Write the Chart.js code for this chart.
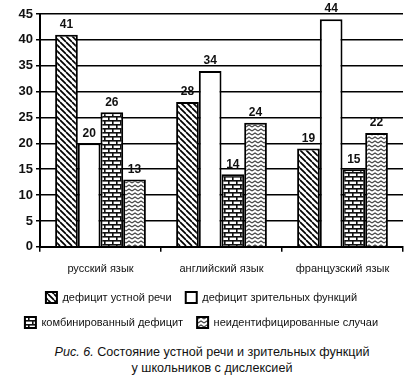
<!DOCTYPE html>
<html>
<head>
<meta charset="utf-8">
<script src="https://cdn.jsdelivr.net/npm/chart.js@4"></script>
<style>
  body { margin: 0; background: #fff; }
  #wrap { position: relative; width: 408px; height: 379px; }
  #caption {
    position: absolute; left: 16px; top: 344px; width: 392px;
    text-align: center; font: 12.6px "Liberation Sans", Arial, sans-serif;
    line-height: 16px; color: #111;
  }
</style>
</head>
<body>
<div id="wrap">
  <canvas id="chart" width="408" height="338"></canvas>
  <div id="caption"><i>Рис. 6.</i> Состояние устной речи и зрительных функций<br>у школьников с дислексией</div>
</div>
<script>
// data
const categories = ['русский язык', 'английский язык', 'французский язык'];
const speechDeficit = [41, 28, 19];
const visualDeficit = [20, 34, 44];
const combinedDeficit = [26, 14, 15];
const unidentified = [13, 24, 22];
const yMax = 45;
const yStep = 5;

// fill patterns like the printed figure
function makePattern(kind) {
  const c = document.createElement('canvas');
  const g = c.getContext('2d');
  if (kind === 'hatch') {
    c.width = 6; c.height = 6;
    g.fillStyle = '#fff'; g.fillRect(0, 0, 6, 6);
    g.strokeStyle = '#000'; g.lineWidth = 1.7;
    [-6, 0, 6].forEach(o => {
      g.beginPath(); g.moveTo(o, 0); g.lineTo(o + 6, 6); g.stroke();
    });
  } else if (kind === 'brick') {
    c.width = 8; c.height = 8;
    g.fillStyle = '#fff'; g.fillRect(0, 0, 8, 8);
    g.fillStyle = '#111';
    g.fillRect(0, 0, 8, 1.6);
    g.fillRect(0, 4, 8, 1.6);
    g.fillRect(0, 0, 1.6, 4);
    g.fillRect(4, 4, 1.6, 4);
  } else {
    c.width = 6; c.height = 4;
    g.fillStyle = '#fff'; g.fillRect(0, 0, 6, 4);
    g.strokeStyle = '#444'; g.lineWidth = 1.1;
    g.beginPath(); g.moveTo(0, 3); g.lineTo(3, 1); g.lineTo(6, 3); g.stroke();
  }
  return g.createPattern(c, 'repeat');
}

// value labels over the bars
const barLabels = {
  id: 'barLabels',
  afterDatasetsDraw(chart) {
    const ctx = chart.ctx;
    ctx.save();
    ctx.font = 'bold 12px "Liberation Sans", Arial, sans-serif';
    ctx.fillStyle = '#111';
    ctx.textAlign = 'center';
    ctx.textBaseline = 'bottom';
    chart.data.datasets.forEach((ds, i) => {
      chart.getDatasetMeta(i).data.forEach((bar, j) => {
        ctx.fillText(ds.data[j], bar.x, bar.y - 4);
      });
    });
    ctx.restore();
  }
};

const ctx = document.getElementById('chart');
new Chart(ctx.getContext('2d'), {
  type: 'bar',
  data: {
    labels: categories,
    datasets: [
      { label: 'дефицит устной речи', data: speechDeficit, backgroundColor: makePattern('hatch') },
      { label: 'дефицит зрительных функций', data: visualDeficit, backgroundColor: '#fff' },
      { label: 'комбинированный дефицит', data: combinedDeficit, backgroundColor: makePattern('brick') },
      { label: 'неидентифицированные случаи', data: unidentified, backgroundColor: makePattern('wavy') }
    ].map(d => Object.assign(d, {
      borderColor: '#000', borderWidth: 2, borderSkipped: 'bottom',
      categoryPercentage: 0.75, barPercentage: 1
    }))
  },
  options: {
    responsive: false,
    animation: false,
    layout: { padding: { left: 0, right: 5, top: 14, bottom: 0 } },
    plugins: {
      legend: {
        position: 'bottom',
        labels: {
          boxWidth: 11, boxHeight: 11, padding: 14,
          color: '#111',
          font: { size: 11, family: '"Liberation Sans", Arial, sans-serif' }
        }
      },
      tooltip: { enabled: false }
    },
    scales: {
      y: {
        min: 0, max: yMax,
        afterFit(scale) { scale.width = 40; },
        ticks: {
          stepSize: yStep, padding: 3, color: '#111',
          font: { size: 13, weight: 'bold', family: '"Liberation Sans", Arial, sans-serif' }
        },
        grid: { color: '#000', lineWidth: 1.5, tickLength: 4 },
        border: { color: '#000', width: 2 }
      },
      x: {
        afterFit(scale) { scale.height -= 9; },
        ticks: {
          padding: 11, color: '#111',
          font: { size: 11, family: '"Liberation Sans", Arial, sans-serif' }
        },
        grid: { offset: true, drawOnChartArea: false, color: '#000', lineWidth: 1.5, tickLength: 5 },
        border: { color: '#000', width: 2 }
      }
    }
  },
  plugins: [barLabels]
});
</script>
</body>
</html>
